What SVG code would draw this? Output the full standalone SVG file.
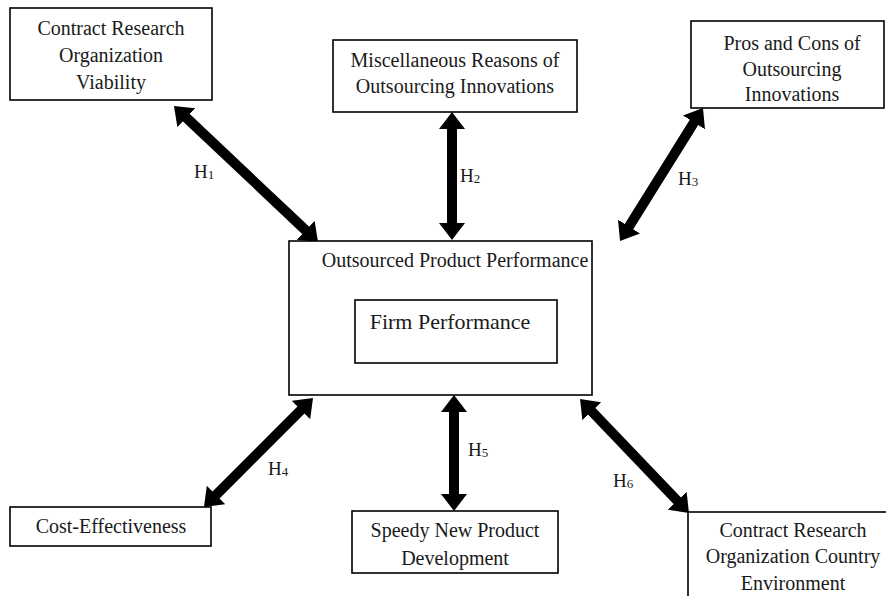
<svg xmlns="http://www.w3.org/2000/svg" width="886" height="596" viewBox="0 0 886 596">
<style>
.box{fill:#fff;stroke:#000;stroke-width:1.6}
.t{font-family:"Liberation Serif","Times New Roman",serif;font-size:20px;fill:#1a1a1a;text-anchor:middle}
.h{font-family:"Liberation Serif","Times New Roman",serif;font-size:19px;fill:#1a1a1a}
.sub{font-size:13px}
.arr{stroke:#000;stroke-width:10;fill:none;marker-start:url(#ah);marker-end:url(#ah)}
</style>
<defs>
<marker id="ah" markerUnits="userSpaceOnUse" markerWidth="18" markerHeight="26" viewBox="-1 0 18 26" refX="0" refY="13" orient="auto-start-reverse">
<path d="M-1,0 L16,13 L-1,26 z" fill="#000"/>
</marker>
</defs>
<rect width="886" height="596" fill="#fff"/>
<g id="connectors">
<line class="arr" x1="185.6" y1="117" x2="306.4" y2="231"/>
<line class="arr" x1="452" y1="128" x2="452" y2="224"/>
<line class="arr" x1="694.5" y1="121.6" x2="628.5" y2="227.4"/>
<line class="arr" x1="301.7" y1="409.3" x2="215.3" y2="495.7"/>
<line class="arr" x1="454" y1="411" x2="454" y2="495"/>
<line class="arr" x1="591.1" y1="410.6" x2="677.9" y2="501.4"/>
<text class="h" x="194" y="178">H<tspan class="sub" dy="1">1</tspan></text>
<text class="h" x="460" y="182">H<tspan class="sub" dy="1">2</tspan></text>
<text class="h" x="678" y="185">H<tspan class="sub" dy="1">3</tspan></text>
<text class="h" x="268" y="475">H<tspan class="sub" dy="1">4</tspan></text>
<text class="h" x="468" y="456">H<tspan class="sub" dy="1">5</tspan></text>
<text class="h" x="613" y="487">H<tspan class="sub" dy="1">6</tspan></text>
</g>
<g id="cro-viability">
<rect class="box" x="10" y="8" width="202" height="92"/>
<text class="t" x="111" y="35">Contract Research</text>
<text class="t" x="111" y="62">Organization</text>
<text class="t" x="111" y="89">Viability</text>
</g>
<g id="misc-reasons">
<rect class="box" x="333" y="40" width="244" height="72"/>
<text class="t" x="455" y="67">Miscellaneous Reasons of</text>
<text class="t" x="455" y="93">Outsourcing Innovations</text>
</g>
<g id="pros-cons">
<rect class="box" x="691" y="21" width="193" height="87"/>
<text class="t" x="792" y="50">Pros and Cons of</text>
<text class="t" x="792" y="75.5">Outsourcing</text>
<text class="t" x="792" y="101">Innovations</text>
</g>
<g id="outsourced-product-performance">
<rect class="box" x="289" y="241" width="303" height="154"/>
<text class="t" x="455" y="267">Outsourced Product Performance</text>
</g>
<g id="firm-performance">
<rect class="box" x="355" y="300" width="202" height="63"/>
<text class="t" x="450" y="329" style="font-size:22px">Firm Performance</text>
</g>
<g id="cost-effectiveness">
<rect class="box" x="10" y="507" width="201" height="39"/>
<text class="t" x="111" y="533">Cost-Effectiveness</text>
</g>
<g id="speedy-npd">
<rect class="box" x="352" y="511" width="206" height="62"/>
<text class="t" x="455" y="537">Speedy New Product</text>
<text class="t" x="455" y="565">Development</text>
</g>
<g id="cro-country-environment">
<rect class="box" x="688" y="512" width="220" height="110"/>
<text class="t" x="793" y="537">Contract Research</text>
<text class="t" x="793" y="563">Organization Country</text>
<text class="t" x="793" y="590">Environment</text>
</g>
</svg>
